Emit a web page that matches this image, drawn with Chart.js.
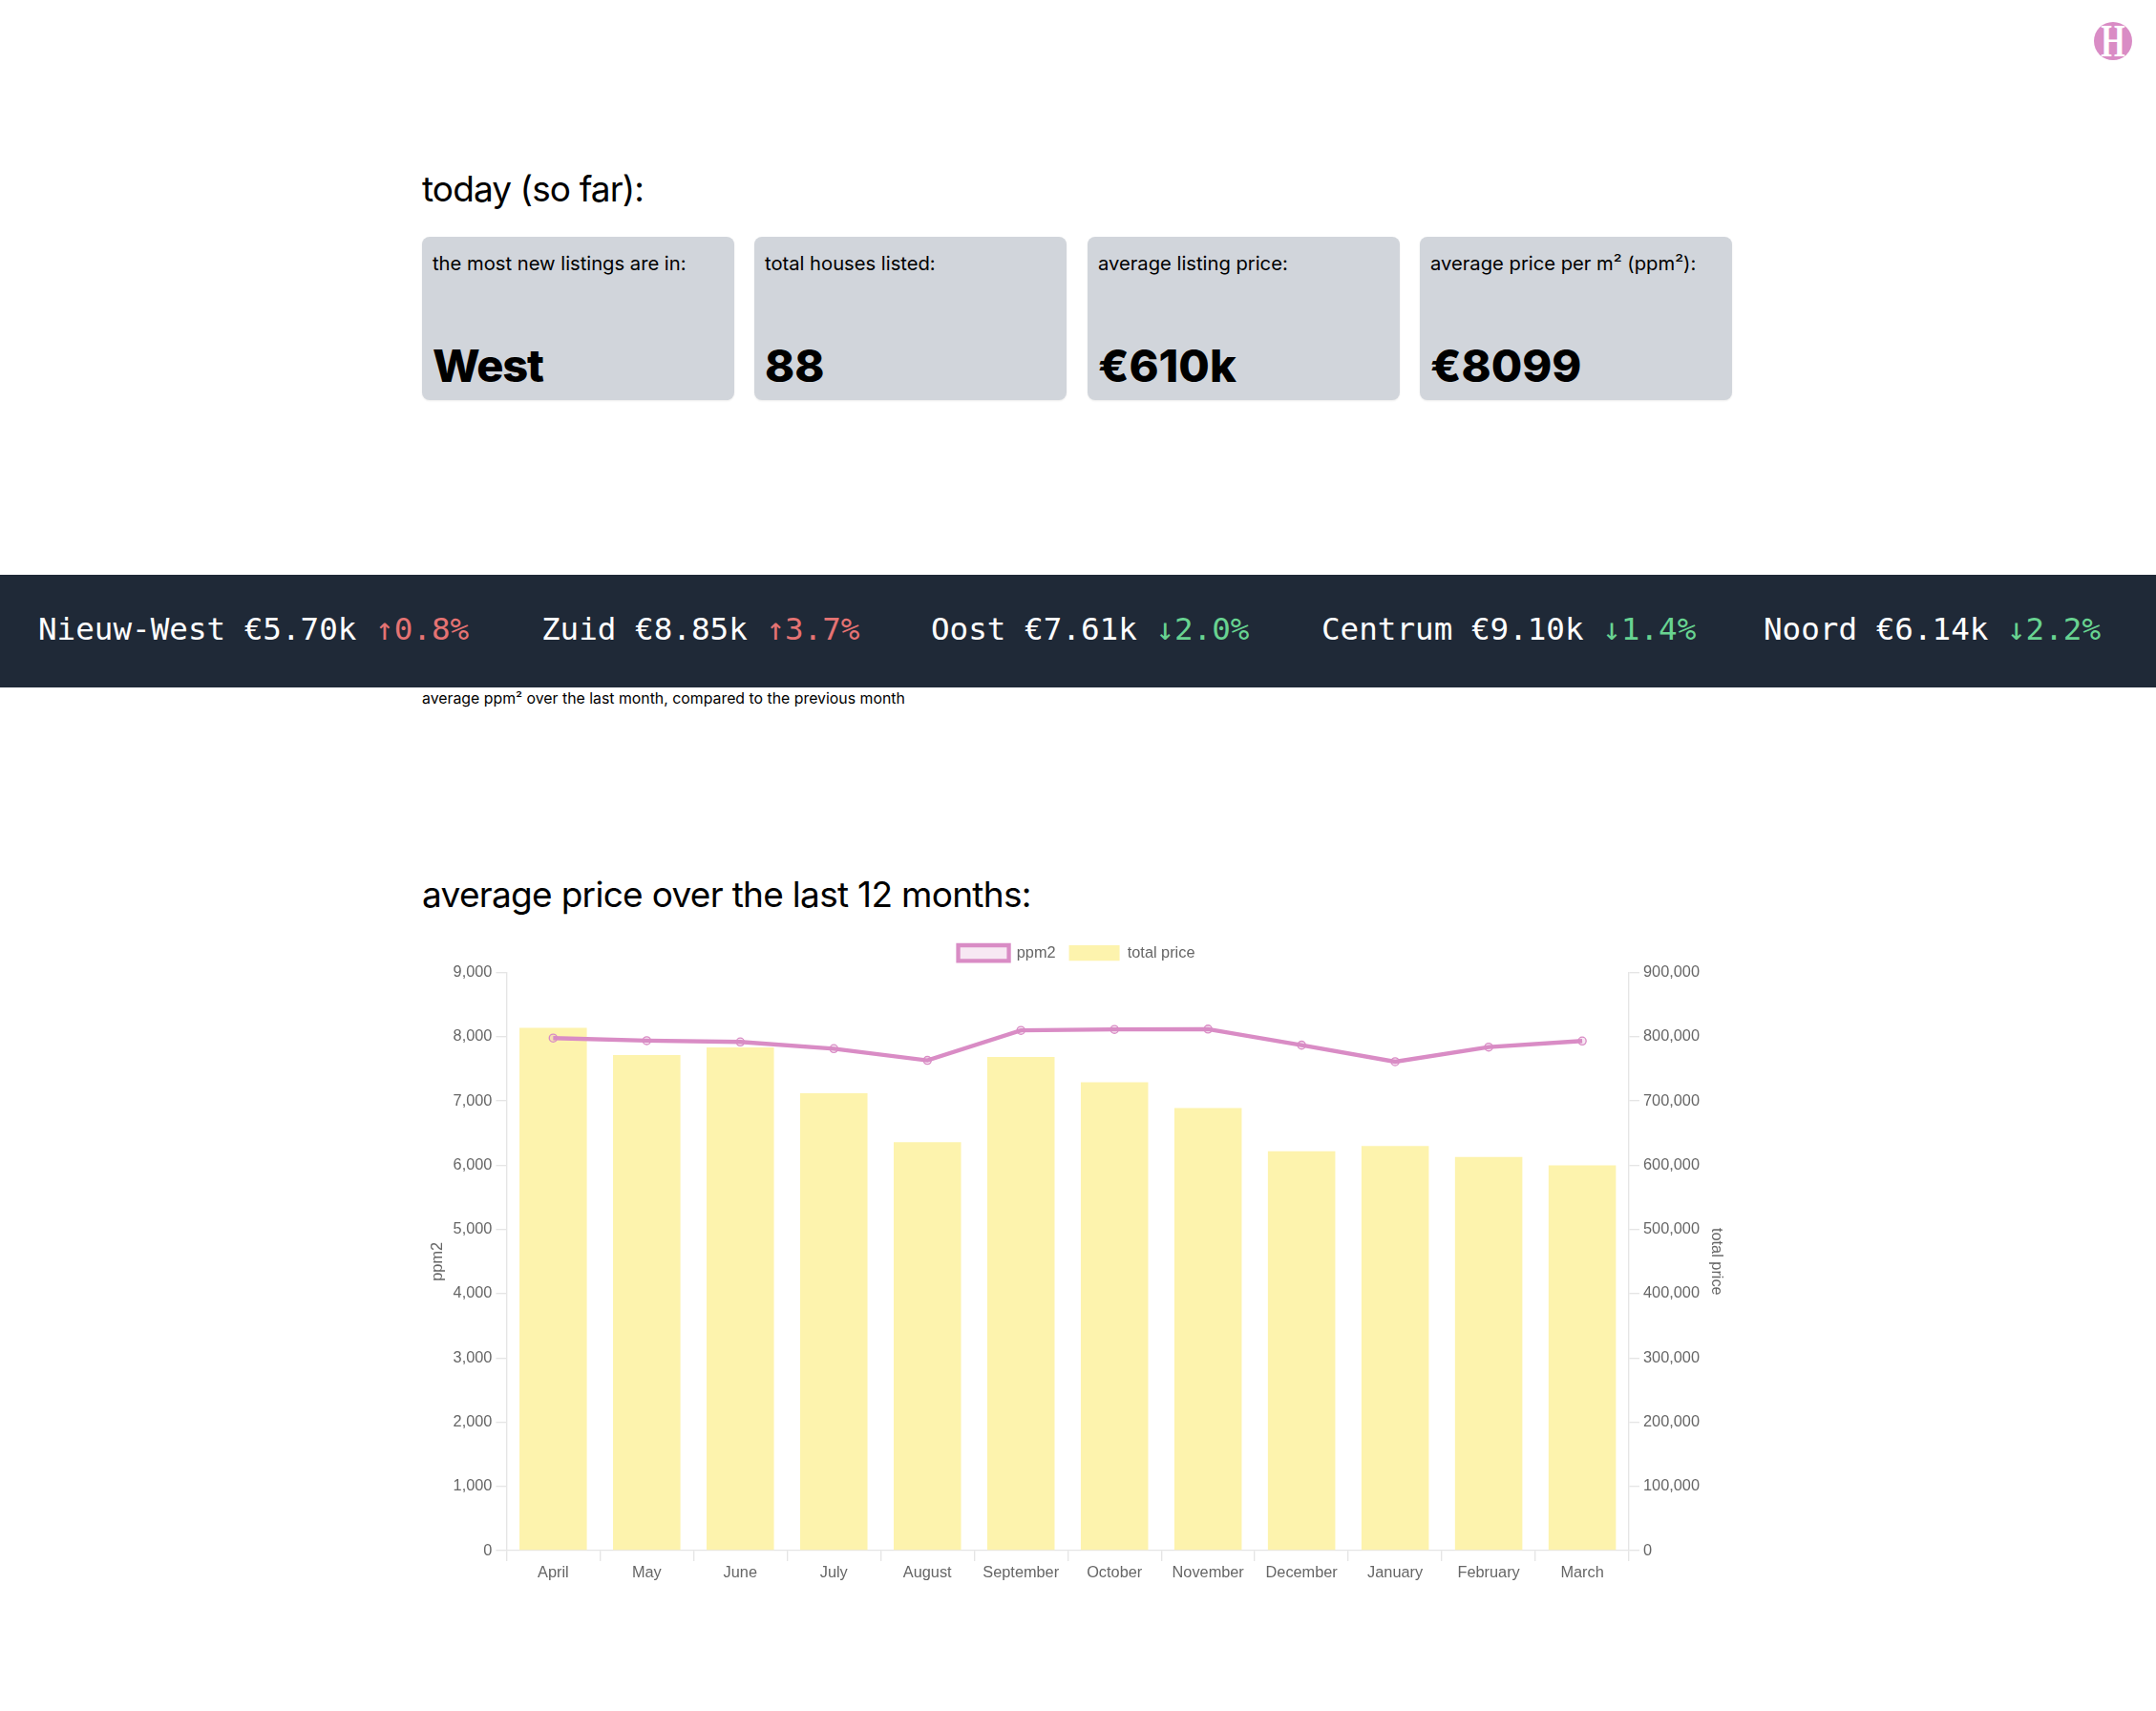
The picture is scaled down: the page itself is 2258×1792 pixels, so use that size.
<!DOCTYPE html>
<html>
<head>
<meta charset="utf-8">
<script src="https://cdn.jsdelivr.net/npm/chart.js@4"></script>
<style>
    html, body { margin: 0; padding: 0; background: #fff; }
    body { position: relative; width: 2258px; height: 1792px; overflow: hidden; font-family: Inter, sans-serif; color: #000; }
    .abs { position: absolute; white-space: nowrap; }
    .heading { font-size: 37px; line-height: 44px; font-weight: 400; left: 442px; }
    .card { position: absolute; top: 248px; width: 327px; height: 171px; background: #d1d5db; border-radius: 8px; box-shadow: 0 1px 2px rgba(0,0,0,0.08); }
    .card .label { position: absolute; left: 11px; top: 14px; font-size: 20.2px; line-height: 28px; white-space: nowrap; }
    .card .value { position: absolute; left: 11px; top: 105px; font-size: 47px; line-height: 60px; font-weight: 800; white-space: nowrap; }
    .card:first-child .value { letter-spacing: -1.2px; }
    #band { position: absolute; left: 0; top: 602px; width: 2258px; height: 118px; background: #1f2937; }
    .tick { position: absolute; top: 35px; font-family: "DejaVu Sans Mono", monospace; font-size: 32.6px; line-height: 44px; color: #fff; white-space: nowrap; }
    .up { color: #e57373; }
    .down { color: #68d391; }
    #logo { position: absolute; left: 2193px; top: 23px; width: 40px; height: 40px; border-radius: 50%; overflow: hidden; background: #d98cc5; color: #fff; font-family: "Liberation Serif", serif; font-weight: 700; font-size: 48px; line-height: 40px; text-align: center; }
    #logo span { display: block; transform: scaleX(0.68); }
    #chartBox { position: absolute; left: 442px; top: 976.2px; width: 1371px; height: 683.3px; }
</style>
</head>
<body>
<div id="logo"><span>H</span></div>
<div class="abs heading" style="top:176px;letter-spacing:-0.9px">today (so far):</div>
<div id="cards"></div>
<div id="band"></div>
<div class="abs" style="left:442px;top:720.5px;font-size:15.85px;line-height:22px">average ppm² over the last month, compared to the previous month</div>
<div class="abs heading" style="top:915px;letter-spacing:-0.7px">average price over the last 12 months:</div>
<div id="chartBox"><canvas id="priceChart"></canvas></div>

<script>
    // ─── DATA ───
    const months = ['April', 'May', 'June', 'July', 'August', 'September', 'October', 'November', 'December', 'January', 'February', 'March'];
    const ppm2 = [7980, 7940, 7920, 7816, 7633, 8100, 8114, 8120, 7870, 7612, 7840, 7935];
    const totalPrice = [814000, 771700, 783600, 712200, 635800, 768700, 729400, 689000, 622000, 630000, 613000, 600000];

    const cardLabels = ['the most new listings are in:', 'total houses listed:', 'average listing price:', 'average price per m² (ppm²):'];
    const cardValues = ['West', '88', '€610k', '€8099'];
    const cardLefts = [442, 790, 1139, 1487];

    const tickerNames = ['Nieuw-West', 'Zuid', 'Oost', 'Centrum', 'Noord'];
    const tickerPrices = ['€5.70k', '€8.85k', '€7.61k', '€9.10k', '€6.14k'];
    const tickerChanges = ['↑0.8%', '↑3.7%', '↓2.0%', '↓1.4%', '↓2.2%'];
    const tickerLefts = [40, 567, 975, 1384, 1847];

    // ─── CARDS + TICKER ───
    cardLabels.forEach((label, i) => {
        const card = document.createElement('div');
        card.className = 'card';
        card.style.left = cardLefts[i] + 'px';
        card.innerHTML = '<div class="label">' + label + '</div><div class="value">' + cardValues[i] + '</div>';
        document.getElementById('cards').appendChild(card);
    });

    tickerNames.forEach((name, i) => {
        const el = document.createElement('div');
        el.className = 'tick';
        el.style.left = tickerLefts[i] + 'px';
        const cls = tickerChanges[i].charAt(0) === '↑' ? 'up' : 'down';
        el.innerHTML = name + ' ' + tickerPrices[i] + ' <span class="' + cls + '">' + tickerChanges[i] + '</span>';
        document.getElementById('band').appendChild(el);
    });

    // ─── CHART ───
    const k = 1.36;
    const pink = '#d98cc5';
    const yellow = '#fdf3ad';
    const axisLine = '#e5e5e5';
    const textColor = '#666';
    Chart.defaults.font.family = '"Liberation Sans", Arial, sans-serif';
    Chart.defaults.font.size = 12 * k;
    Chart.defaults.color = textColor;

    const tickFmt = v => v.toLocaleString('en-US');

    // a bit more room under the legend than labels.padding gives
    const legendGap = {
        id: 'legendGap',
        beforeInit(chart) {
            const fit = chart.legend.fit;
            chart.legend.fit = function() {
                fit.call(this);
                this.height += 2.3;
            };
        }
    };

    new Chart(document.getElementById('priceChart').getContext('2d'), {
        plugins: [legendGap],
        data: {
            labels: months,
            datasets: [{
                type: 'line',
                label: 'ppm2',
                data: ppm2,
                yAxisID: 'y',
                borderColor: pink,
                backgroundColor: 'rgba(217,140,197,0.2)',
                borderWidth: 4.3,
                pointRadius: 3 * k,
                pointBorderWidth: 1 * k,
                tension: 0
            }, {
                type: 'bar',
                label: 'total price',
                data: totalPrice,
                yAxisID: 'y1',
                backgroundColor: yellow,
                borderWidth: 0
            }]
        },
        options: {
            responsive: true,
            maintainAspectRatio: false,
            animation: false,
            plugins: {
                tooltip: { enabled: false },
                legend: { labels: { boxWidth: 39 * k, boxHeight: 12 * k, padding: 14, color: textColor }, position: 'top' }
            },
            scales: {
                x: {
                    grid: { drawOnChartArea: false, color: axisLine, lineWidth: k, tickLength: 8 * k },
                    border: { color: axisLine, width: k },
                    ticks: { padding: 2.4, maxRotation: 0 }
                },
                y: {
                    position: 'left',
                    min: 0,
                    max: 9000,
                    grid: { drawOnChartArea: false, color: axisLine, lineWidth: k, tickLength: 8 * k },
                    border: { color: axisLine, width: k },
                    ticks: { stepSize: 1000, padding: 3 * k, callback: tickFmt },
                    title: { display: true, text: 'ppm2', padding: { top: 6.9, bottom: 2 } }
                },
                y1: {
                    position: 'right',
                    min: 0,
                    max: 900000,
                    grid: { drawOnChartArea: false, color: axisLine, lineWidth: k, tickLength: 8 * k },
                    border: { color: axisLine, width: k },
                    ticks: { stepSize: 100000, padding: 3 * k, callback: tickFmt },
                    title: { display: true, text: 'total price', padding: { top: 4 * k, bottom: 3.9 } }
                }
            }
        }
    });
</script>
</body>
</html>
